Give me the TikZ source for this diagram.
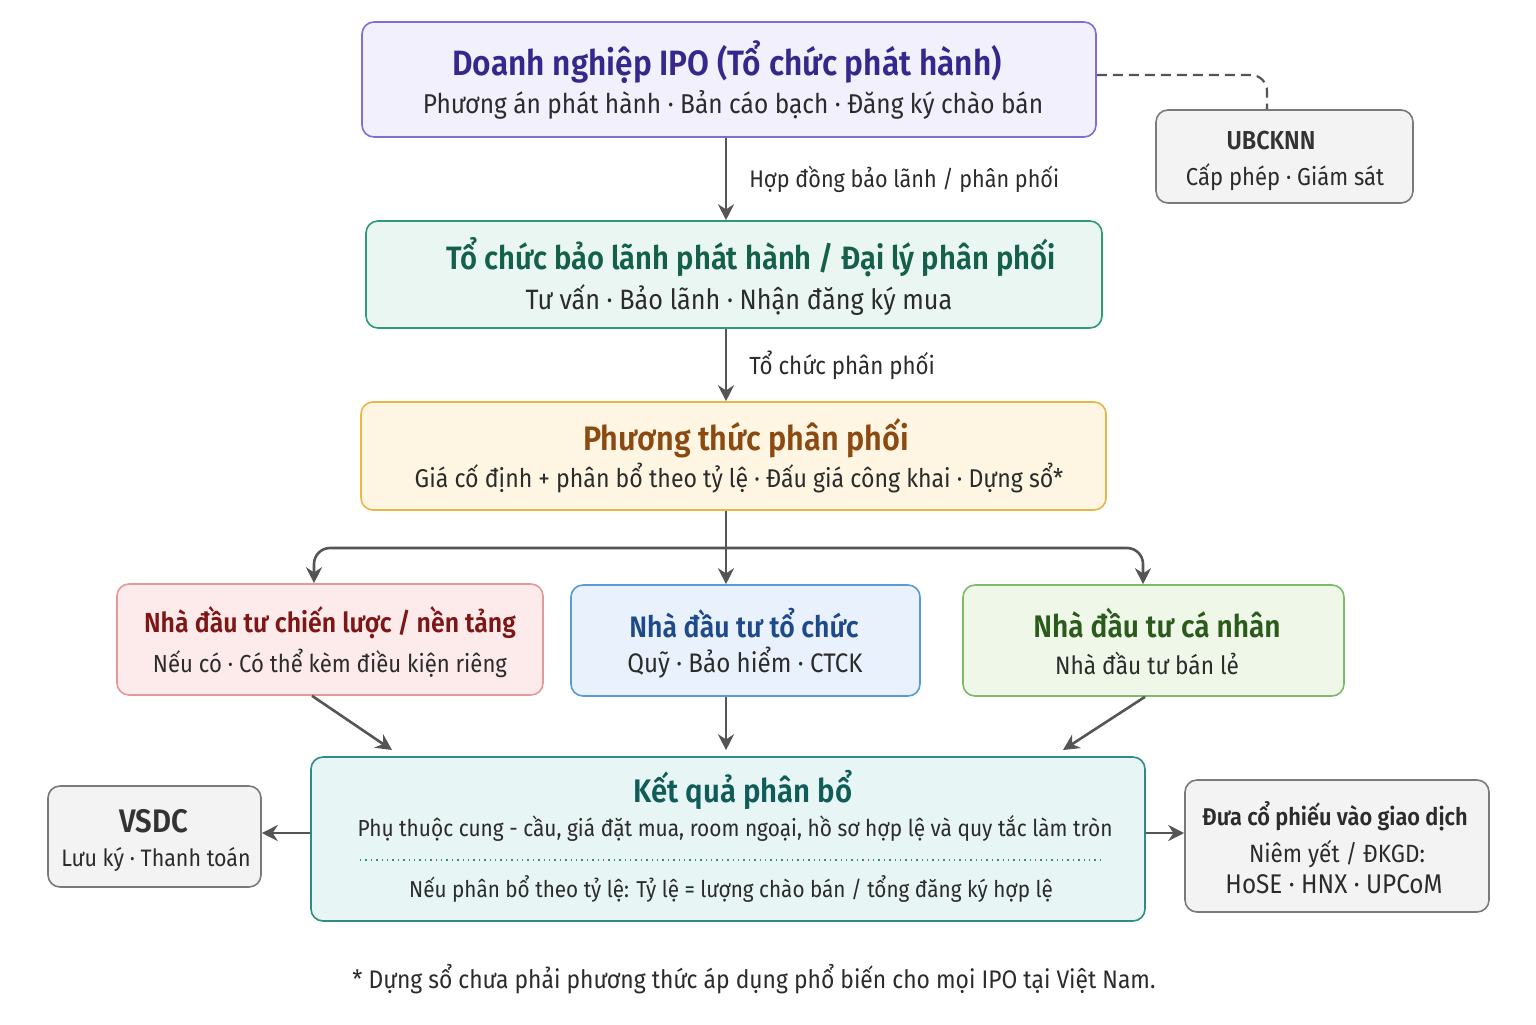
\documentclass[tikz,border=0pt]{standalone}
\usepackage{fontspec}
\setmainfont{Fira Sans}[FakeStretch=0.9,BoldFont={Fira Sans SemiBold}]
\usetikzlibrary{arrows.meta}
\newcommand\fsz[1]{\fontsize{#1}{#1}\selectfont}
\definecolor{linec}{HTML}{555555}
\definecolor{txt}{HTML}{2B2B2B}
\definecolor{pBd}{HTML}{7B6FD8}\definecolor{pFl}{HTML}{F2F0FD}\definecolor{pTx}{HTML}{35288C}
\definecolor{gyBd}{HTML}{7A7A7A}\definecolor{gyFl}{HTML}{F3F3F3}\definecolor{gyTx}{HTML}{333333}
\definecolor{tBd}{HTML}{2E9A7A}\definecolor{tFl}{HTML}{E9F6F1}\definecolor{tTx}{HTML}{14604A}
\definecolor{oBd}{HTML}{E8B649}\definecolor{oFl}{HTML}{FEF6E2}\definecolor{oTx}{HTML}{8B4A12}
\definecolor{rBd}{HTML}{E29A9A}\definecolor{rFl}{HTML}{FCEBEA}\definecolor{rTx}{HTML}{7E1616}
\definecolor{bBd}{HTML}{5B9BD5}\definecolor{bFl}{HTML}{E9F2FC}\definecolor{bTx}{HTML}{1F4A8A}
\definecolor{grBd}{HTML}{7DBA6B}\definecolor{grFl}{HTML}{EEF7E8}\definecolor{grTx}{HTML}{2B5A1C}
\definecolor{cBd}{HTML}{2E8B86}\definecolor{cFl}{HTML}{E7F5F4}\definecolor{cTx}{HTML}{0F5C59}
\tikzset{
  x=0.5pt, y=-0.5pt,
  box/.style={draw, rounded corners=6pt, line width=0.8pt, inner sep=0pt},
  ttl/.style={inner sep=0pt},
  sub/.style={text=txt, inner sep=0pt},
  lbl/.style={text=txt, inner sep=0pt, anchor=west},
  arr/.style={draw=linec, line width=1.3pt, -{Stealth[length=8pt,width=8pt]}},
}
\begin{document}
\begin{tikzpicture}
\fill[white] (0,0) rectangle (1536,1024);
\useasboundingbox (0,0) rectangle (1536,1024);
% boxes
\node[box, draw=pBd, fill=pFl, minimum width=367pt, minimum height=57.5pt] (top) at (729,79.5) {};
\node[box, draw=gyBd, fill=gyFl, minimum width=128.5pt, minimum height=46.5pt] (ubc) at (1284.5,156.5) {};
\node[box, draw=tBd, fill=tFl, minimum width=368pt, minimum height=53.5pt] (bl) at (734,274.5) {};
\node[box, draw=oBd, fill=oFl, minimum width=372.5pt, minimum height=54pt] (pt) at (733.5,456) {};
\node[box, draw=rBd, fill=rFl, minimum width=213pt, minimum height=55.5pt] (red) at (330,639.5) {};
\node[box, draw=bBd, fill=bFl, minimum width=174.5pt, minimum height=55.5pt] (blue) at (745.5,640.5) {};
\node[box, draw=grBd, fill=grFl, minimum width=190.5pt, minimum height=55.5pt] (green) at (1153.5,640.5) {};
\node[box, draw=cBd, fill=cFl, minimum width=417pt, minimum height=82pt] (res) at (728,839) {};
\node[box, draw=gyBd, fill=gyFl, minimum width=106.5pt, minimum height=50.5pt] (vsdc) at (154.5,836.5) {};
\node[box, draw=gyBd, fill=gyFl, minimum width=152pt, minimum height=66pt] (lst) at (1337,846) {};
% texts
\node[ttl, text=pTx, font=\fsz{17.6}\bfseries] (topT) at (727,62) {Doanh nghiệp IPO (Tổ chức phát hành)};
\node[sub, font=\fsz{13.6}] (topS) at (733,105) {Phương án phát hành · Bản cáo bạch · Đăng ký chào bán};
\node[ttl, text=gyTx, font=\fsz{13}\bfseries] (ubcT) at (1271,140) {UBCKNN};
\node[sub, font=\fsz{12.25}] (ubcS) at (1285,177) {Cấp phép · Giám sát};
\node[ttl, text=tTx, font=\fsz{16.2}\bfseries] (blT) at (751,257) {Tổ chức bảo lãnh phát hành / Đại lý phân phối};
\node[sub, font=\fsz{14}] (blS) at (739,300) {Tư vấn · Bảo lãnh · Nhận đăng ký mua};
\node[ttl, text=oTx, font=\fsz{17}\bfseries] (ptT) at (746,438) {Phương thức phân phối};
\node[sub, font=\fsz{12.85}] (ptS) at (739,478) {Giá cố định + phân bổ theo tỷ lệ · Đấu giá công khai · Dựng sổ*};
\node[ttl, text=rTx, font=\fsz{13.8}\bfseries] (redT) at (330,623) {Nhà đầu tư chiến lược / nền tảng};
\node[sub, font=\fsz{12.3}] (redS) at (330,663) {Nếu có · Có thể kèm điều kiện riêng};
\node[ttl, text=bTx, font=\fsz{14.8}\bfseries] (blueT) at (744,623) {Nhà đầu tư tổ chức};
\node[sub, font=\fsz{13.4}] (blueS) at (745,663) {Quỹ · Bảo hiểm · CTCK};
\node[ttl, text=grTx, font=\fsz{15.6}\bfseries] (greenT) at (1157,623) {Nhà đầu tư cá nhân};
\node[sub, font=\fsz{12.6}] (greenS) at (1147,663) {Nhà đầu tư bán lẻ};
\node[ttl, text=cTx, font=\fsz{16.3}\bfseries] (resT) at (743,790) {Kết quả phân bổ};
\node[sub, font=\fsz{11.6}] (resS1) at (735,828) {Phụ thuộc cung - cầu, giá đặt mua, room ngoại, hồ sơ hợp lệ và quy tắc làm tròn};
\node[sub, font=\fsz{11.5}] (resS2) at (731,889) {Nếu phân bổ theo tỷ lệ: Tỷ lệ = lượng chào bán / tổng đăng ký hợp lệ};
\node[ttl, text=gyTx, font=\fsz{16.3}\bfseries] (vsdcT) at (154,821) {VSDC};
\node[sub, font=\fsz{11.9}] (vsdcS) at (156,859) {Lưu ký · Thanh toán};
\node[sub, font=\fsz{12.1}\bfseries] (lstT) at (1335,816) {Đưa cổ phiếu vào giao dịch};
\node[sub, font=\fsz{12.5}] (lstS1) at (1337,854) {Niêm yết / ĐKGD:};
\node[sub, font=\fsz{13.5}] (lstS2) at (1334,884) {HoSE · HNX · UPCoM};
\node[sub, font=\fsz{12.7}] (foot) at (754,979) {* Dựng sổ chưa phải phương thức áp dụng phổ biến cho mọi IPO tại Việt Nam.};
% dotted separator
\coordinate (dl) at (360,860); \coordinate (dr) at (1105,860);
\draw[cBd, line width=0.7pt, dotted] (dl) -- (dr);
% helper coordinates
\coordinate (cx) at (726,0);
\coordinate (xr) at (314,0);
\coordinate (xg) at (1143,0);
\coordinate (yb) at (0,548);
\coordinate (ud) at (1267,0);
\coordinate (dy) at (0,75);
% connectors
\draw[linec, line width=1.1pt, dashed, dash pattern=on 5pt off 3pt, rounded corners=8pt] (top.east |- dy) -| (ubc.north -| ud);
\draw[arr] (top.south -| cx) -- (bl.north -| cx) node[lbl, font=\fsz{12}, pos=0.5, xshift=11pt] (l1) {Hợp đồng bảo lãnh / phân phối};
\draw[arr] (bl.south -| cx) -- (pt.north -| cx) node[lbl, font=\fsz{12.4}, pos=0.5, xshift=11pt] (l2) {Tổ chức phân phối};
\draw[arr] (pt.south -| cx) -- (blue.north -| cx);
\draw[arr, rounded corners=8pt] (cx |- yb) -| (red.north -| xr);
\draw[arr, rounded corners=8pt] (cx |- yb) -| (green.north -| xg);
\coordinate (r1) at (312,0); \coordinate (r2) at (392,750);
\coordinate (g1) at (1145,0); \coordinate (g2) at (1063,750);
\draw[arr] (red.south -| r1) -- (r2);
\draw[arr] (green.south -| g1) -- (g2);
\draw[arr, shorten >=3pt] (blue.south -| cx) -- (res.north -| cx);
\coordinate (my) at (0,833);
\draw[arr] (res.west |- my) -- (vsdc.east |- my);
\draw[arr] (res.east |- my) -- (lst.west |- my);
\end{tikzpicture}
\end{document}
